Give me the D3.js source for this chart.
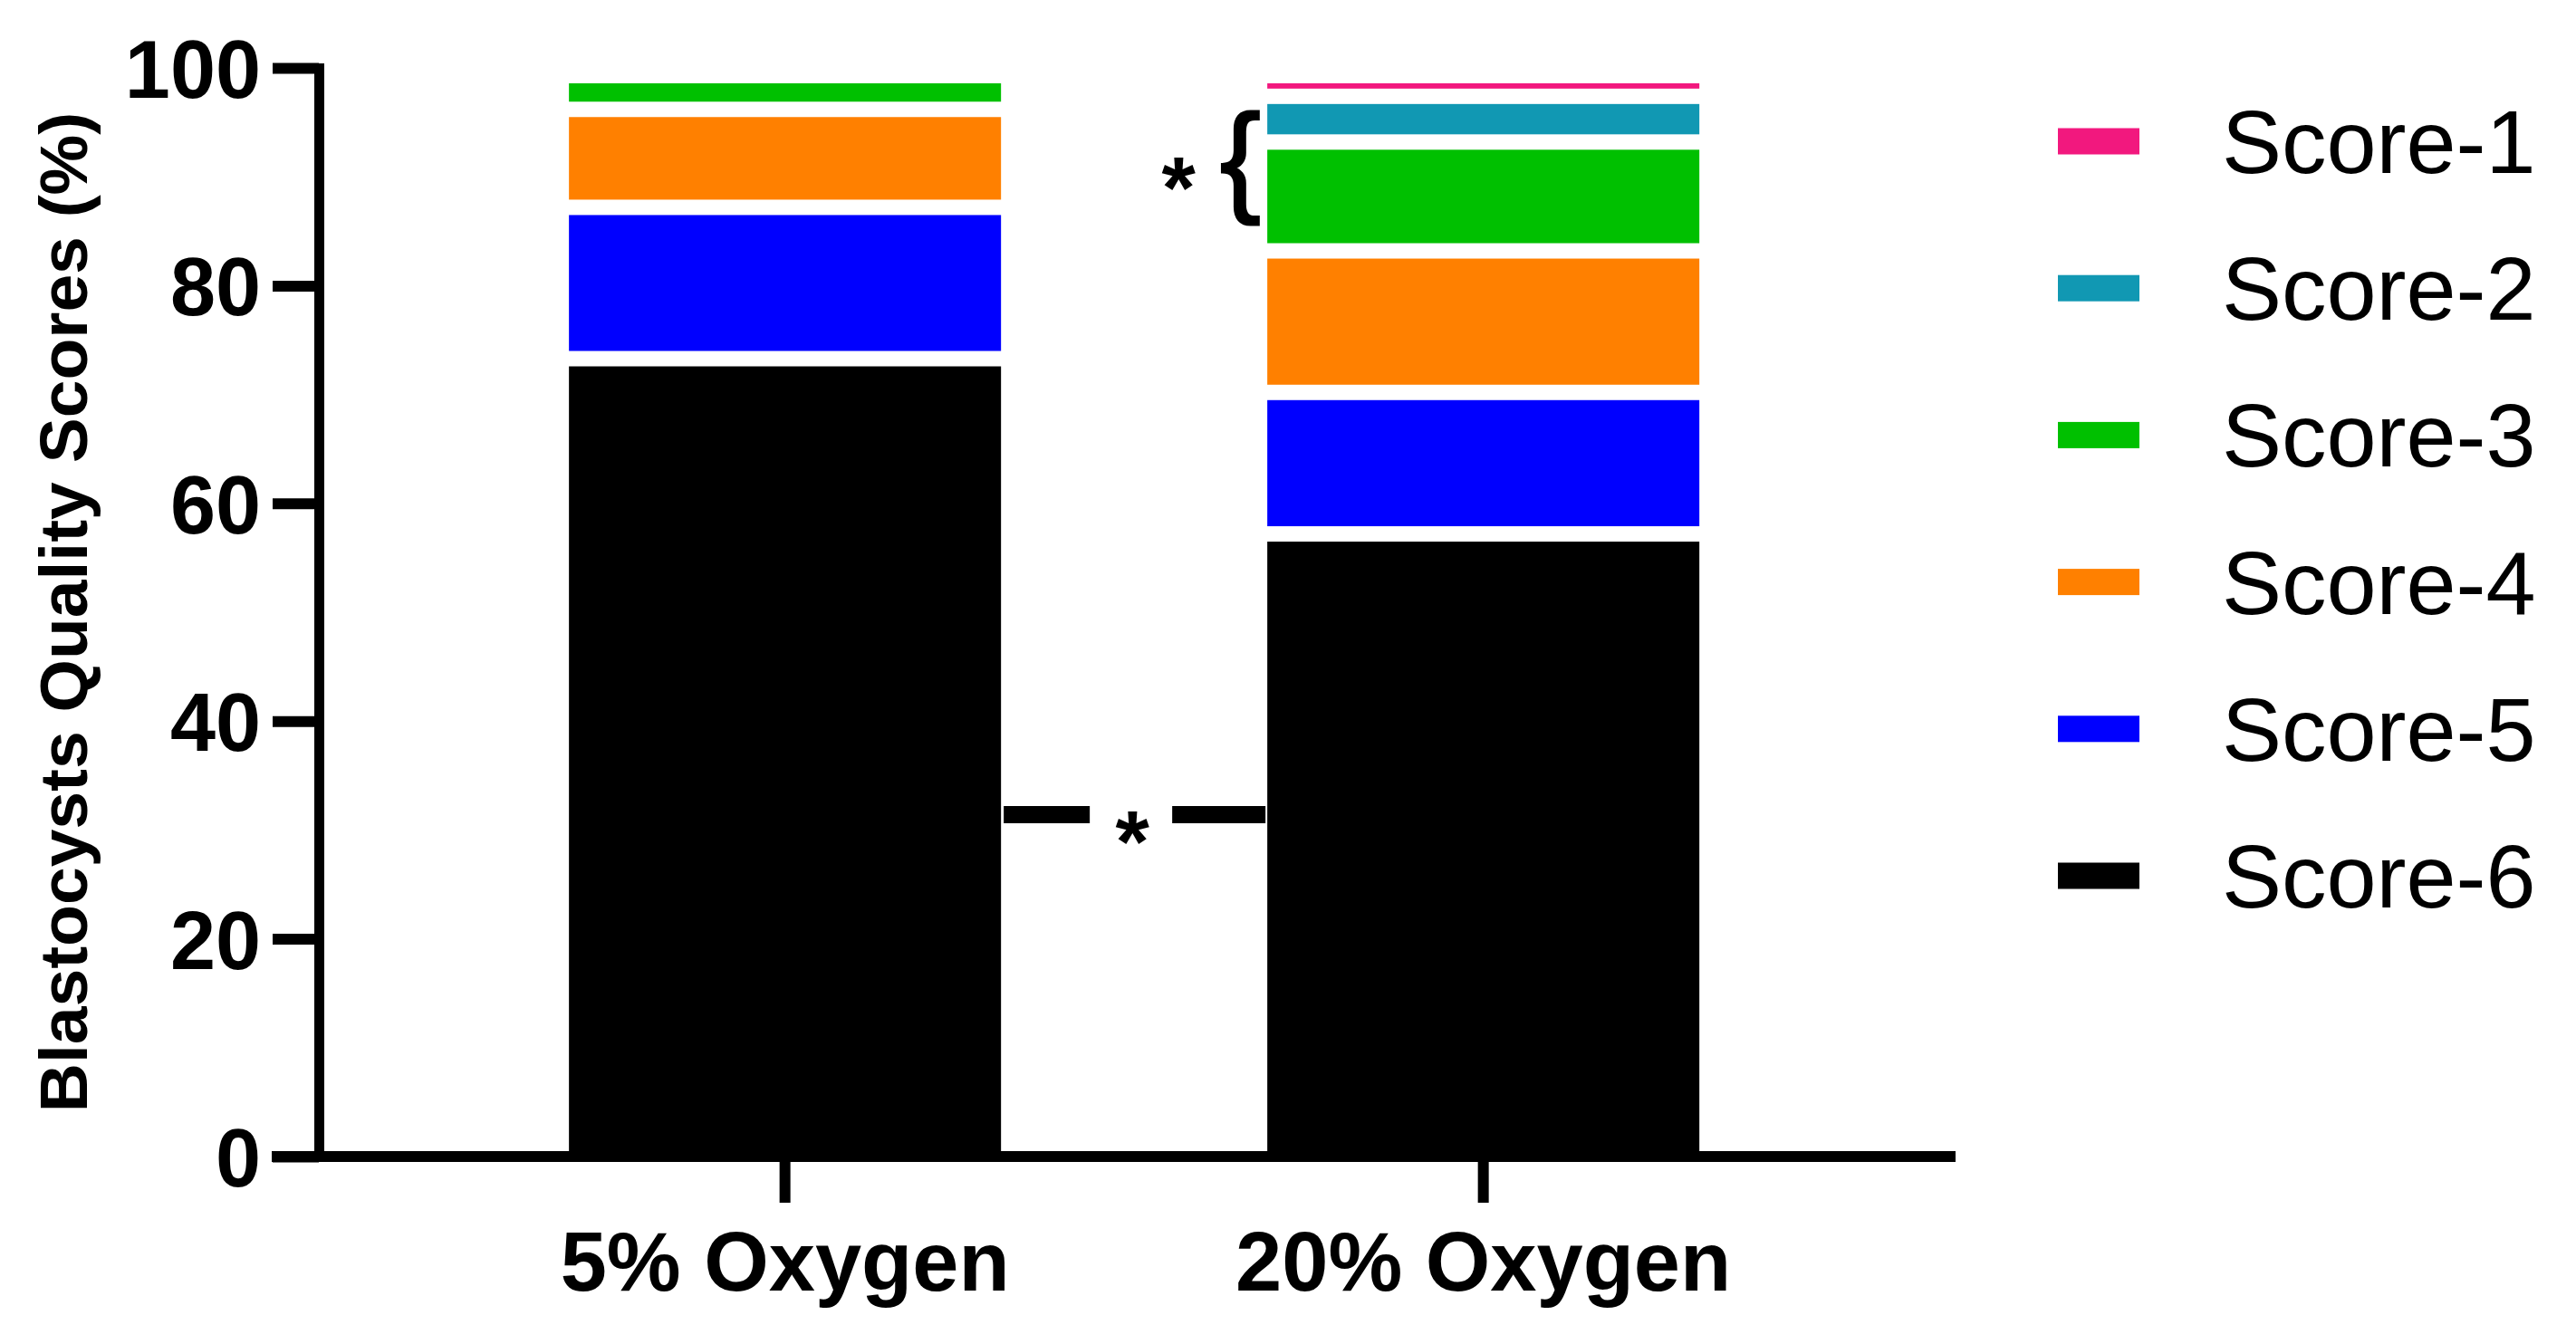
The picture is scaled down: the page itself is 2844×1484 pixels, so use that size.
<!DOCTYPE html>
<html>
<head>
<meta charset="utf-8">
<script src="https://cdn.jsdelivr.net/npm/d3@7"></script>
<style>
  html, body { margin: 0; padding: 0; background: #fff; }
  svg { display: block; }
  text { font-family: "Liberation Sans", Arial, Helvetica, sans-serif; fill: #000; }
</style>
</head>
<body>
<svg id="chart" width="2844" height="1484"></svg>
<script>
// ---- data ----
const categories = ["5% Oxygen", "20% Oxygen"];
const seriesNames = ["Score-1", "Score-2", "Score-3", "Score-4", "Score-5", "Score-6"];
const seriesColors = ["#F2187E", "#1198B3", "#00C000", "#FF8000", "#0000FF", "#000000"];
// values (%) per category, in seriesNames order
const score1 = [0.0, 1.9];
const score2 = [0.0, 4.2];
const score3 = [3.1, 10.0];
const score4 = [9.0, 13.0];
const score5 = [13.9, 13.0];
const score6 = [74.0, 57.9];
const yTicks = [0, 20, 40, 60, 80, 100];
const yTitle = "Blastocysts Quality Scores (%)";
const sigLineValue = 31.4;   // level of the significance bar between the groups

// ---- build ----
const svg = d3.select("#chart");
const values = [score1, score2, score3, score4, score5, score6];
const rows = categories.map((c, i) => {
  const r = { cat: c };
  seriesNames.forEach((s, k) => r[s] = values[k][i]);
  return r;
});
// stack from bottom: Score-6 first
const stackKeys = seriesNames.slice().reverse();
const stacked = d3.stack().keys(stackKeys)(rows);
const color = d3.scaleOrdinal().domain(seriesNames).range(seriesColors);

const x = d3.scaleBand().domain(categories).range([352, 2159])
  .paddingInner(0.3813).paddingOuter(0.3625).align(0.494);
const y = d3.scaleLinear().domain([0, 100]).range([1277, 75]);

const gap = 17;
svg.append("g").selectAll("g").data(stacked).join("g")
  .attr("fill", d => color(d.key))
  .selectAll("rect").data(d => d.filter(p => p[1] - p[0] > 0)).join("rect")
  .attr("x", p => x(p.data.cat))
  .attr("width", x.bandwidth())
  .attr("y", p => y(p[1]) + gap)
  .attr("height", p => Math.max(0, y(p[0]) - y(p[1]) - gap));

// y axis
const yAxis = svg.append("g").attr("transform", "translate(352,0)")
  .call(d3.axisLeft(y).tickValues(yTicks).tickSize(51).tickSizeOuter(0).tickPadding(13));
yAxis.select(".domain").attr("stroke", "#000").attr("stroke-width", 11).attr("stroke-linecap", "square");
yAxis.selectAll(".tick line").attr("stroke", "#000").attr("stroke-width", 12);
yAxis.selectAll(".tick text").attr("font-size", 90).attr("font-weight", "bold")
  .attr("dy", "0.36em").style("font-family", "'Liberation Sans', Arial, sans-serif");

// x axis
const xAxis = svg.append("g").attr("transform", "translate(0,1277)")
  .call(d3.axisBottom(x).tickSize(51).tickSizeOuter(0).tickPadding(32));
xAxis.select(".domain").attr("stroke", "#000").attr("stroke-width", 12).attr("d", "M300,0H2159");
xAxis.selectAll(".tick line").attr("stroke", "#000").attr("stroke-width", 12);
xAxis.selectAll(".tick text").attr("font-size", 92).attr("font-weight", "bold")
  .style("font-family", "'Liberation Sans', Arial, sans-serif");

// y title
svg.append("text")
  .attr("transform", "translate(96," + ((y(0) + y(100)) / 2) + ") rotate(-90)")
  .attr("text-anchor", "middle")
  .attr("font-size", 75).attr("font-weight", "bold")
  .text(yTitle);

// significance bar between groups
const leftEnd = x(categories[0]) + x.bandwidth() + 3;
const rightEnd = x(categories[1]) - 2;
const mid = (x(categories[0]) + x.bandwidth() + x(categories[1])) / 2;
const ys = y(sigLineValue);
svg.append("line").attr("x1", leftEnd).attr("x2", mid - 49).attr("y1", ys).attr("y2", ys)
  .attr("stroke", "#000").attr("stroke-width", 19);
svg.append("line").attr("x1", mid + 42).attr("x2", rightEnd).attr("y1", ys).attr("y2", ys)
  .attr("stroke", "#000").attr("stroke-width", 19);
svg.append("text").attr("x", mid - 2).attr("y", ys + 62).attr("text-anchor", "middle")
  .attr("font-size", 96).attr("font-weight", "bold").text("*");

// brace + asterisk on the 20% bar (Score-2 / Score-3)
const bx = x(categories[1]);
svg.append("text").attr("x", bx - 52).attr("y", 220).attr("font-size", 133)
  .attr("stroke", "#000").attr("stroke-width", 3).text("{");
svg.append("text").attr("x", bx - 98).attr("y", 240).attr("text-anchor", "middle")
  .attr("font-size", 96).attr("font-weight", "bold").text("*");

// legend
const legend = svg.append("g");
seriesNames.forEach((s, i) => {
  const cy = 156 + i * 162.2;
  legend.append("rect").attr("x", 2272).attr("y", cy - 14.5).attr("width", 90).attr("height", 29)
    .attr("fill", color(s));
  legend.append("text").attr("x", 2453).attr("y", cy + 35).attr("font-size", 99).text(s);
});
</script>
</body>
</html>
